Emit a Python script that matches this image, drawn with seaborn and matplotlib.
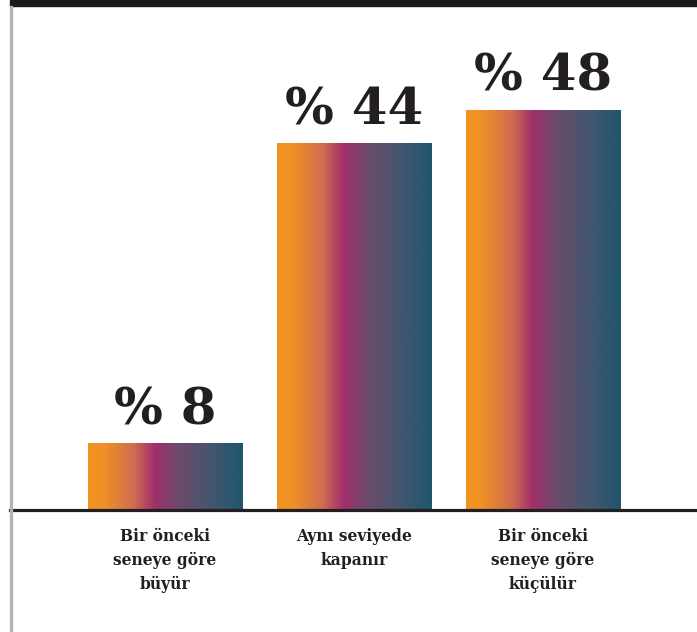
import numpy as np
import pandas as pd
import matplotlib
matplotlib.use("Agg")
import matplotlib.pyplot as plt
import seaborn as sns
from matplotlib.colors import LinearSegmentedColormap
from matplotlib.patches import Rectangle

# veriler
kategoriler = ["Bir önceki\nseneye göre\nbüyür", "Aynı seviyede\nkapanır", "Bir önceki\nseneye göre\nküçülür"]
oranlar = [8, 44, 48]
etiketler = ["% 8", "% 44", "% 48"]

df = pd.DataFrame({"kategori": kategoriler, "oran": oranlar})

sns.set_style("white")
plt.rcParams["font.family"] = ["DejaVu Serif", "DejaVu Sans"]

koyu = "#231f20"
fig = plt.figure(figsize=(6.97, 6.32), dpi=100)
ax = fig.add_axes([10 / 697, (632 - 510) / 632, 687 / 697, 504 / 632])

sns.barplot(data=df, x="kategori", y="oran", ax=ax, width=0.815, color="white")

# yatay gradyan
renkler = [(0.0, "#f39421"), (0.10, "#ef9125"), (0.30, "#cf6b52"), (0.43, "#a02f6b"),
           (0.58, "#6d4a6a"), (0.78, "#46566f"), (1.0, "#1f566f")]
cmap = LinearSegmentedColormap.from_list("grad", renkler)
grad = np.linspace(0, 1, 256).reshape(1, -1)

for p in ax.patches:
    x0, y0 = p.get_x(), p.get_y()
    w, h = p.get_width(), p.get_height()
    im = ax.imshow(grad, cmap=cmap, aspect="auto", extent=[x0, x0 + w, y0, y0 + h], zorder=2)
    im.set_clip_path(p)
    p.set_facecolor("none")
    p.set_edgecolor("none")

for i, (v, t) in enumerate(zip(oranlar, etiketler)):
    ax.annotate(t, (i, v), xytext=(0, 6), textcoords="offset points", ha="center", va="bottom",
                fontsize=37, fontweight="bold", color=koyu)

ax.set_xlim(-0.82, 2.815)
ax.set_ylim(0, 60.5)
ax.set_xlabel("")
ax.set_ylabel("")
ax.set_yticks([])
ax.tick_params(axis="x", length=0, pad=13)
for lbl in ax.get_xticklabels():
    lbl.set_fontsize(11.2)
    lbl.set_fontweight("bold")
    lbl.set_color(koyu)
    lbl.set_linespacing(1.5)
    lbl.set_va("top")

for s in ["top", "left", "right"]:
    ax.spines[s].set_visible(False)
ax.spines["bottom"].set_color(koyu)
ax.spines["bottom"].set_linewidth(2.3)

# üst siyah şerit ve sol gri çizgi
fig.add_artist(Rectangle((10 / 697, 626 / 632), 1, 6 / 632, transform=fig.transFigure,
                         color="#1d1a1b", zorder=5))
fig.add_artist(Rectangle((9.5 / 697, 0), 2 / 697, 626 / 632, transform=fig.transFigure,
                         color="#b3b3b3", zorder=5))

fig.savefig("out.png", dpi=100)
